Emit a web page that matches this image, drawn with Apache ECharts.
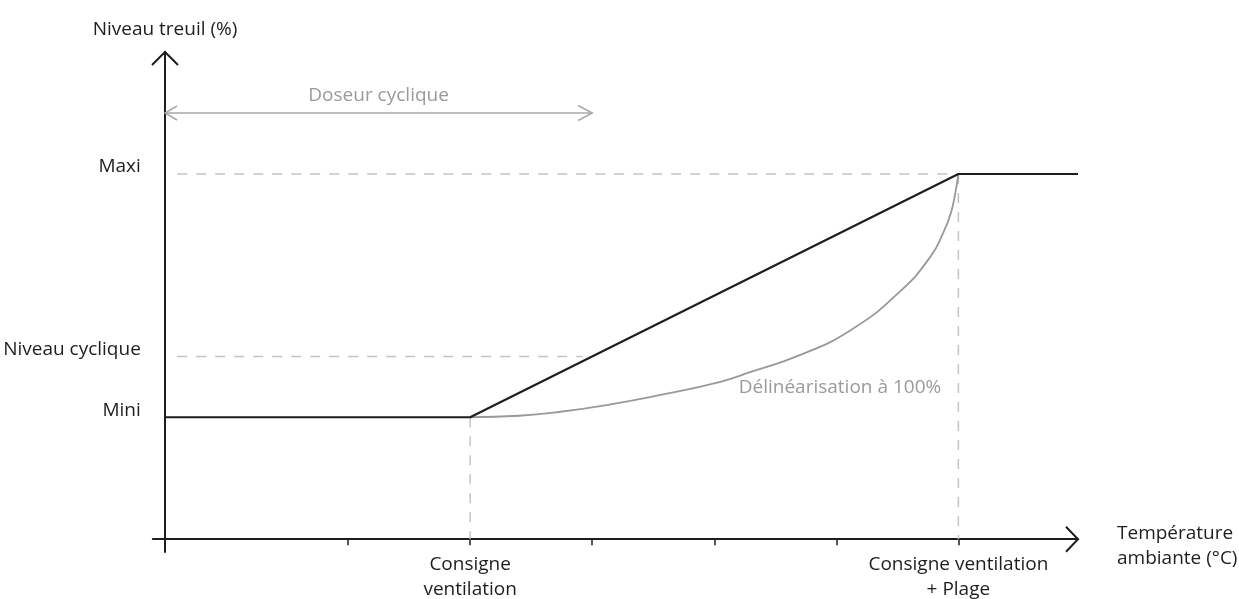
<!DOCTYPE html>
<html>
<head>
<meta charset="utf-8">
<script src="https://cdn.jsdelivr.net/npm/echarts@6/dist/echarts.min.js"></script>
<style>
html,body{margin:0;padding:0;background:#fff;}
#c{width:1239px;height:599px;}
</style>
</head>
<body>
<div id="c"></div>
<script>
// ---- data ----
const xTicks = [1.5, 2.5, 3.5, 4.5, 5.5, 6.5];
const xLabelValues = [2.5, 6.5];
const xLabelTexts = ['Consigne\nventilation', 'Consigne ventilation\n+ Plage'];
const yLabelValues = [33.4, 50, 100];
const yLabelTexts = ['Mini', 'Niveau cyclique', 'Maxi'];
const xAxisTitle = ['Température', 'ambiante (°C)'];
const yAxisTitle = 'Niveau treuil (%)';
const xRange = [-0.1, 7.48];
const yRange = [-3.5, 133.4];
const blackLine = [[0, 33.4], [2.5, 33.4], [6.5, 100], [7.48, 100]];
const curveLine = [[2.5, 33.4], [2.9, 33.8], [3.24, 34.9], [3.65, 36.9], [4.06, 39.5], [4.55, 43.1], [4.8, 45.8], [5.2, 50.4], [5.62, 57.3], [6.02, 67.8], [6.27, 77.3], [6.38, 84.2], [6.44, 89.5], [6.475, 94.8], [6.5, 100]];
const dashMaxi = [[0.1, 100], [6.5, 100]];
const dashCyclique = [[0.1, 50], [3.42, 50]];
const dashConsigne = [[2.5, 33.4], [2.5, 0]];
const dashPlage = [[6.5, 100], [6.5, 0]];
const doseurLine = [[0, 116.7], [3.5, 116.7]];
const arrowTips = [[0, 133.4, 'up'], [7.48, 0, 'right'], [3.5, 116.7, 'right'], [0, 116.7, 'left']];
const notes = [[1.75, 116.7, 'Doseur cyclique'], [5.53, 41.6, 'Délinéarisation à 100%']];

// ---- styles ----
const FONT = 'Open Sans';
const FS = 19;
const DARK = '#1e1e1e';
const GREY = '#9a9a9a';
const DASH = '#c4c4c4';
const arrowStyle = [
  {len: 13, half: 13, color: DARK, width: 2},
  {len: 12, half: 12.5, color: DARK, width: 2},
  {len: 14, half: 7.5, color: '#a8a8a8', width: 1.5},
  {len: 12, half: 7, color: '#a8a8a8', width: 1.5}
];

const chart = echarts.init(document.getElementById('c'), null, {renderer: 'canvas'});

function dashed(data) {
  return {type: 'line', data: data, symbol: 'none', silent: true, z: 1,
    lineStyle: {color: DASH, width: 1.5, type: [10, 9]}};
}

const option = {
  backgroundColor: '#fff',
  animation: false,
  grid: {left: 152.8, right: 161, top: 52, bottom: 47, containLabel: false, outerBoundsMode: 'none'},
  xAxis: {
    type: 'value', min: xRange[0], max: xRange[1],
    name: '{s| }\n{t|' + xAxisTitle[0] + '}\n{t|' + xAxisTitle[1] + '}', nameLocation: 'end', nameGap: 39,
    nameTextStyle: {fontFamily: FONT, fontSize: FS, color: DARK, align: 'left', verticalAlign: 'middle', lineHeight: 25,
      rich: {s: {fontSize: 1, lineHeight: 13}, t: {fontFamily: FONT, fontSize: FS, color: DARK, lineHeight: 25}}},
    axisLine: {onZero: true, lineStyle: {color: DARK, width: 2}},
    axisTick: {show: true, customValues: xTicks, length: 6, inside: false, lineStyle: {color: DARK, width: 1.5}},
    axisLabel: {show: true, customValues: xLabelValues, margin: 0, fontFamily: FONT, fontSize: FS, color: DARK, lineHeight: 25,
      formatter: function (v) { const i = xLabelValues.indexOf(v); return i >= 0 ? xLabelTexts[i] : ''; }},
    splitLine: {show: false}
  },
  yAxis: {
    type: 'value', min: yRange[0], max: yRange[1],
    name: yAxisTitle, nameLocation: 'end', nameGap: 22,
    nameTextStyle: {fontFamily: FONT, fontSize: FS, color: DARK, align: 'center', verticalAlign: 'middle'},
    axisLine: {onZero: true, lineStyle: {color: DARK, width: 2}},
    axisTick: {show: false},
    axisLabel: {show: true, customValues: yLabelValues, margin: 12, fontFamily: FONT, fontSize: FS, color: DARK,
      verticalAlign: 'bottom', lineHeight: 14,
      formatter: function (v) { const i = yLabelValues.indexOf(v); return i >= 0 ? yLabelTexts[i] : ''; }},
    splitLine: {show: false}
  },
  series: [
    dashed(dashMaxi), dashed(dashCyclique), dashed(dashConsigne), dashed(dashPlage),
    {type: 'line', data: doseurLine, symbol: 'none', silent: true, z: 2,
      lineStyle: {color: '#a8a8a8', width: 1.5}},
    {type: 'line', data: curveLine, symbol: 'none', smooth: 0.5, silent: true, z: 3,
      lineStyle: {color: '#999', width: 1.8}},
    {type: 'line', data: blackLine, symbol: 'none', silent: true, z: 4,
      lineStyle: {color: DARK, width: 2.2}},
    {type: 'custom', data: arrowTips, silent: true, z: 5,
      renderItem: function (params, api) {
        const tip = api.coord([api.value(0), api.value(1)]);
        const d = arrowTips[params.dataIndex][2];
        const s = arrowStyle[params.dataIndex];
        let pts;
        if (d === 'up') pts = [[tip[0] - s.half, tip[1] + s.len], tip, [tip[0] + s.half, tip[1] + s.len]];
        else if (d === 'right') pts = [[tip[0] - s.len, tip[1] - s.half], tip, [tip[0] - s.len, tip[1] + s.half]];
        else pts = [[tip[0] + s.len, tip[1] - s.half], tip, [tip[0] + s.len, tip[1] + s.half]];
        return {type: 'polyline', shape: {points: pts}, style: {stroke: s.color, lineWidth: s.width, fill: null}};
      }},
    {type: 'custom', data: notes, silent: true, z: 6,
      renderItem: function (params, api) {
        const p = api.coord([api.value(0), api.value(1)]);
        const i = params.dataIndex;
        return {type: 'text', x: p[0], y: p[1] + (i === 0 ? -17 : 0),
          style: {text: notes[i][2], fill: GREY, font: FS + 'px "' + FONT + '"', align: 'center', verticalAlign: 'middle'}};
      }}
  ]
};
chart.setOption(option);
</script>
</body>
</html>
